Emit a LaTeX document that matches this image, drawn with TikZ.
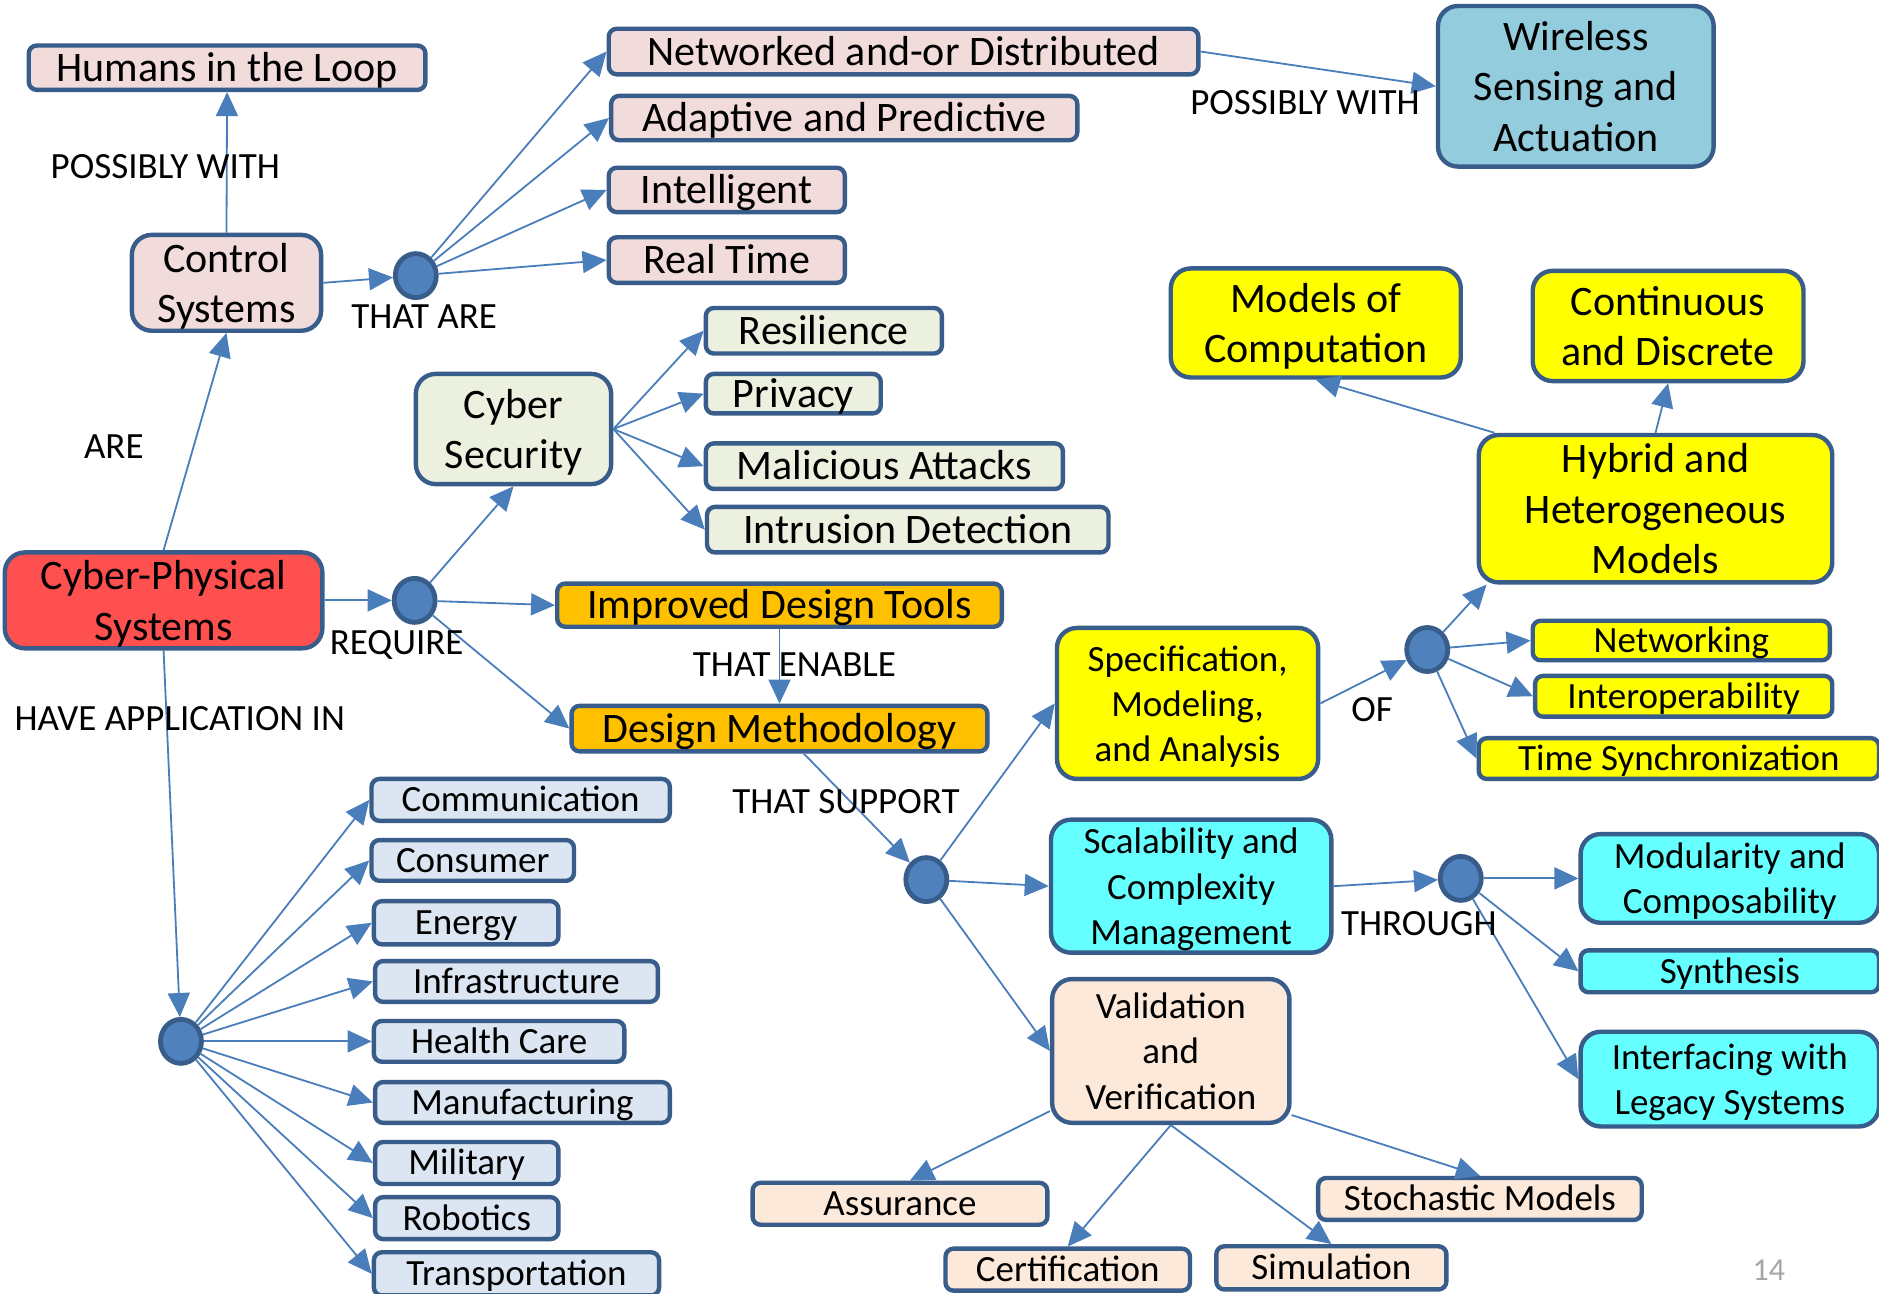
\documentclass[tikz,border=0pt]{standalone}
\usepackage{fontspec}
\setmainfont{Carlito}
\usetikzlibrary{arrows.meta,shapes.geometric,calc}
\definecolor{bord}{HTML}{385D8A}
\definecolor{arrowc}{HTML}{4A7EBB}
\definecolor{hubfill}{HTML}{4F81BD}
\definecolor{cpink}{HTML}{F2DCDB}
\definecolor{cgreen}{HTML}{EBF1DE}
\definecolor{cred}{HTML}{FF5050}
\definecolor{corange}{HTML}{FFC000}
\definecolor{cyellow}{HTML}{FFFF00}
\definecolor{ccyan}{HTML}{66FFFF}
\definecolor{cpeach}{HTML}{FDE9D9}
\definecolor{clblue}{HTML}{DCE6F2}
\definecolor{cwire}{HTML}{93CDDD}
% box from its corners (x1,y1)-(x2,y2), in picture units
\newcommand\mybox[7]{%
  \pgfmathsetmacro\bcx{(#3+#5)/2}\pgfmathsetmacro\bcy{(#4+#6)/2}%
  \pgfmathsetmacro\bww{(#5-#3)*0.5992}\pgfmathsetmacro\bhh{(#6-#4)*0.5992}%
  \node[bx,#1,minimum width=\bww pt,minimum height=\bhh pt] (#2) at (\bcx,\bcy) {#7};}
\begin{document}
\begin{tikzpicture}[x=0.5992pt,y=-0.5992pt,
 bx/.style={draw=bord, line width=2.2pt, rounded corners=4pt, inner sep=0pt, align=center,
   font=\fontsize{21}{25.2}\selectfont, text depth=0pt},
 sm/.style={font=\fontsize{18.5}{22.6}\selectfont},
 s1/.style={text height=13.5pt},
 s2/.style={sm, text height=11.9pt},
 bigr/.style={rounded corners=10pt},
 hub/.style={ellipse, draw=bord, fill=hubfill, line width=2.4pt, minimum width=20.5pt, minimum height=22pt, inner sep=0pt},
 con/.style={draw=arrowc, line width=0.9pt, -{Triangle[length=12pt,width=11pt]}},
 lab/.style={font=\fontsize{18.5}{22}\selectfont, inner sep=0pt, text height=11.9pt, text depth=0pt},
]
\useasboundingbox (0,0) rectangle (1568,1079);
\fill[white] (0,0) rectangle (1568,1079);

% control systems branch
\mybox{s1, fill=cpink}{hum}{24}{38}{355}{75}{Humans in the Loop}
\mybox{bigr, fill=cpink}{ctrl}{110}{196}{268}{276}{Control\\Systems}
\node[hub] (d1) at (347,230) {};
\mybox{s1, fill=cpink}{net}{508}{24}{1000}{62}{Networked and-or Distributed}
\mybox{s1, fill=cpink}{adp}{510}{80}{899}{117}{Adaptive and Predictive}
\mybox{s1, fill=cpink}{intl}{508}{140}{705}{177}{Intelligent}
\mybox{s1, fill=cpink}{rt}{508}{198}{705}{236}{Real Time}
\mybox{bigr, fill=cwire}{wsa}{1200}{5}{1430}{139}{Wireless\\Sensing and\\Actuation}

% cyber security
\mybox{bigr, fill=cgreen}{cs}{347}{312}{510}{404}{Cyber\\Security}
\mybox{s1, fill=cgreen}{res}{589}{257}{786}{295}{Resilience}
\mybox{s1, fill=cgreen}{prv}{589}{312}{735}{345}{Privacy}
\mybox{s1, fill=cgreen}{mal}{589}{370}{887}{408}{Malicious Attacks}
\mybox{s1, fill=cgreen}{ids}{590}{423}{925}{461}{Intrusion Detection}

% CPS
\mybox{bigr, fill=cred}{cps}{4}{461}{269}{541}{Cyber-Physical\\Systems}
\node[hub] (d2) at (346,501) {};
\mybox{s1, fill=corange}{idt}{465}{487}{836}{523}{Improved Design Tools}
\mybox{s1, fill=corange}{dm}{477}{589}{824}{627}{Design Methodology}
\node[hub] (d3) at (773,734) {};

% specification
\mybox{bigr, sm, fill=cyellow}{spec}{882}{524}{1100}{650}{Specification,\\Modeling,\\and Analysis}
\node[hub] (d4) at (1191,542) {};
\mybox{bigr, fill=cyellow}{moc}{977}{224}{1219}{315}{Models of\\Computation}
\mybox{bigr, fill=cyellow}{cd}{1279}{226}{1505}{318}{Continuous\\and Discrete}
\mybox{bigr, fill=cyellow}{hyb}{1234}{363}{1529}{486}{Hybrid and\\Heterogeneous\\Models}
\mybox{s2, fill=cyellow}{netw}{1279}{518}{1527}{551}{Networking}
\mybox{s2, fill=cyellow}{iop}{1281}{564}{1529}{598}{Interoperability}
\mybox{s2, fill=cyellow}{ts}{1234}{616}{1568}{650}{Time Synchronization}

% scalability
\mybox{bigr, sm, fill=ccyan}{scm}{877}{684}{1111}{795}{Scalability and\\Complexity\\Management}
\node[hub] (d5) at (1219,733) {};
\mybox{bigr, sm, fill=ccyan}{mc}{1319}{696}{1568}{770}{Modularity and\\Composability}
\mybox{s2, fill=ccyan}{syn}{1319}{793}{1568}{828}{Synthesis}
\mybox{bigr, sm, fill=ccyan}{leg}{1319}{861}{1568}{940}{Interfacing with\\Legacy Systems}

% validation
\mybox{bigr, sm, fill=cpeach}{vv}{878}{817}{1076}{937}{Validation\\and\\Verification}
\mybox{s2, fill=cpeach}{asr}{628}{987}{874}{1022}{Assurance}
\mybox{s2, fill=cpeach}{cert}{789}{1042}{993}{1077}{Certification}
\mybox{s2, fill=cpeach}{sim}{1015}{1040}{1207}{1076}{Simulation}
\mybox{s2, fill=cpeach}{sto}{1100}{983}{1370}{1018}{Stochastic Models}

% applications
\node[hub] (d6) at (151,869) {};
\mybox{s2, fill=clblue}{comm}{310}{650}{559}{685}{Communication}
\mybox{s2, fill=clblue}{cons}{310}{701}{479}{735}{Consumer}
\mybox{s2, fill=clblue}{ener}{312}{752}{466}{788}{Energy}
\mybox{s2, fill=clblue}{infra}{313}{802}{549}{836}{Infrastructure}
\mybox{s2, fill=clblue}{hc}{312}{852}{521}{886}{Health Care}
\mybox{s2, fill=clblue}{manu}{313}{903}{559}{937}{Manufacturing}
\mybox{s2, fill=clblue}{mil}{313}{953}{466}{988}{Military}
\mybox{s2, fill=clblue}{rob}{313}{999}{466}{1034}{Robotics}
\mybox{s2, fill=clblue}{trans}{312}{1045}{550}{1081}{Transportation}

% connectors
\draw[con] (ctrl.north) -- (hum.south);
\draw[con] (cps.north) -- (ctrl.south);
\draw[con] (ctrl.east) -- (d1);
\draw[con] (d1) -- (net.west);
\draw[con] (d1) -- (adp.west);
\draw[con] (d1) -- (intl.west);
\draw[con] (d1) -- (rt.west);
\draw[con] (net.east) -- (wsa.west);
\draw[con] (cps.east) -- (d2);
\draw[con] (d2) -- (cs.south);
\draw[con] (d2) -- (idt.west);
\draw[con] (d2) -- (dm.west);
\draw[con] (cs.east) -- (res.west);
\draw[con] (cs.east) -- (prv.west);
\draw[con] (cs.east) -- (mal.west);
\draw[con] (cs.east) -- (ids.west);
\draw[con] (idt.south) -- (dm.north);
\draw[con] (dm) -- (d3);
\draw[con] (d3) -- (spec.west);
\draw[con] (d3) -- (scm.west);
\draw[con] (d3) -- (vv.west);
\draw[con] (spec.east) -- (d4);
\draw[con] (d4) -- ([xshift=5pt]hyb.south west);
\draw[con] (d4) -- (netw.west);
\draw[con] (d4) -- (iop.west);
\draw[con] (d4) -- (ts.west);
\draw[con] ([xshift=9pt]hyb.north west) -- (moc.south);
\draw[con] (hyb.north) -- (cd.south);
\draw[con] (scm.east) -- (d5);
\draw[con] (d5) -- (mc.west);
\draw[con] (d5) -- (syn.west);
\draw[con] (d5) -- (leg.west);
\draw[con] ([yshift=7pt]vv.south west) -- ([xshift=5pt]asr.north);
\draw[con] (vv.south) -- (cert.north);
\draw[con] (vv.south) -- (sim.north);
\draw[con] ([yshift=5pt]vv.south east) -- (sto.north);
\draw[con] (cps.south) -- (d6);
\foreach \t in {comm,cons,ener,infra,hc,manu,mil,rob,trans}
  \draw[con] (d6) -- (\t.west);

% labels
\node[lab] (l1) at (138,139) {POSSIBLY WITH};
\node[lab] (l2) at (354,264) {THAT ARE};
\node[lab] (l3) at (1089,86) {POSSIBLY WITH};
\node[lab] (l4) at (95,373) {ARE};
\node[lab] (l5) at (331,536) {REQUIRE};
\node[lab] (l6) at (663,555) {THAT ENABLE};
\node[lab] (l7) at (150,600) {HAVE APPLICATION IN};
\node[lab] (l8) at (706,669) {THAT SUPPORT};
\node[lab] (l9) at (1145,592) {OF};
\node[lab] (l10) at (1184,771) {THROUGH};
\node[lab, text=gray!70, font=\fontsize{16}{18}\selectfont, text height=10.3pt] (pg) at (1476,1060) {14};
\end{tikzpicture}
\end{document}
